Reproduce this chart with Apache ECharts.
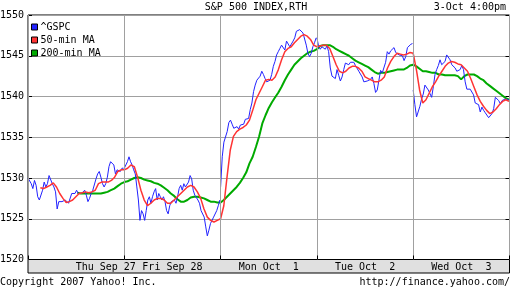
<!DOCTYPE html>
<html>
<head>
<meta charset="utf-8">
<script src="https://cdn.jsdelivr.net/npm/echarts@6/dist/echarts.min.js"></script>
<style>
html,body{margin:0;padding:0;background:#fff;}
#chart{width:512px;height:288px;}
</style>
</head>
<body>
<div id="chart"></div>
<script>
// ---- data ----
const dayLabels = ['Thu Sep 27', 'Fri Sep 28', 'Mon Oct  1', 'Tue Oct  2', 'Wed Oct  3'];
const dayLabelMinutes = [315, 585, 975, 1365, 1755];
const dayBoundaries = [0, 390, 780, 1170, 1560, 1950];
const yTicks = [1520, 1525, 1530, 1535, 1540, 1545, 1550];
const seriesNames = ['^GSPC', '50-min MA', '200-min MA'];
const titleText = 'S&P 500 INDEX,RTH';
const stampText = '3-Oct 4:00pm';
const copyrightText = 'Copyright 2007 Yahoo! Inc.';
const urlText = 'http://finance.yahoo.com/';

// ^GSPC, one array per trading day (9:30-16:00)
const gspcThu = [1530.0,1529.9,1529.3,1528.7,1529.7,1529.1,1527.7,1527.3,1527.1,1528.5,1529.5,1528.9,1529.3,1530.3,1530.1,1529.3,1528.9,1528.3,1526.2,1527.1,1526.9,1527.1,1526.9,1527.3,1527.3,1526.9,1527.1,1528.1,1528.3,1528.1,1528.5,1528.1,1528.3,1528.1,1528.3,1528.5,1527.9,1527.1,1527.5,1528.1,1528.5,1528.7,1529.9,1530.5,1530.8,1530.1,1529.3,1528.9,1529.3,1530.1,1531.4,1532.0,1532.2,1531.6,1530.5,1531.0,1531.0,1530.8,1531.2,1531.2];
const gspcFri = [1531.2,1531.6,1532.0,1532.6,1532.0,1531.6,1531.0,1530.5,1528.9,1527.3,1524.8,1526.0,1525.6,1524.8,1526.0,1527.3,1527.7,1526.9,1527.7,1528.3,1528.7,1527.3,1528.1,1527.7,1527.3,1527.7,1527.1,1526.0,1525.6,1526.6,1527.1,1526.9,1527.3,1526.9,1527.7,1528.7,1529.1,1528.5,1529.3,1528.9,1528.9,1529.5,1530.3,1529.9,1528.5,1527.9,1527.7,1527.3,1526.9,1526.0,1526.0,1525.2,1524.0,1522.9,1523.6,1524.4,1524.8,1525.2,1525.4,1526.0,1526.6,1527.3];
const gspcMon = [1528.9,1532.6,1534.4,1534.6,1535.7,1536.8,1537.1,1536.6,1536.1,1536.0,1536.3,1536.0,1536.5,1536.3,1536.6,1537.2,1537.4,1537.3,1538.4,1539.2,1540.6,1541.4,1542.0,1541.9,1542.5,1543.1,1542.7,1542.2,1541.8,1541.6,1542.0,1542.7,1543.7,1544.3,1545.1,1545.5,1545.9,1546.3,1546.1,1545.7,1546.8,1546.6,1546.1,1545.9,1546.8,1547.2,1548.0,1547.8,1548.2,1548.4,1547.8,1547.6,1546.3,1545.3,1544.9,1545.3,1546.1,1546.6,1547.2];
const gspcTue = [1547.2,1546.2,1545.8,1546.1,1545.9,1545.8,1546.2,1545.5,1543.5,1542.5,1542.5,1542.2,1543.3,1542.6,1541.9,1542.4,1543.3,1544.1,1544.2,1543.9,1544.2,1544.1,1544.2,1543.8,1543.6,1543.1,1543.1,1542.4,1541.8,1541.7,1541.9,1541.7,1542.1,1542.4,1541.6,1540.5,1540.8,1542.0,1543.2,1542.9,1543.0,1544.2,1545.5,1545.2,1545.6,1545.7,1546.0,1545.4,1545.5,1545.1,1544.9,1545.0,1544.4,1544.9,1546.0,1546.2,1546.4,1546.5];
const gspcWed = [1540.8,1539.0,1537.5,1537.3,1538.8,1539.7,1540.3,1541.4,1541.2,1540.8,1540.7,1539.9,1541.2,1542.7,1543.3,1543.8,1544.5,1543.9,1543.9,1544.3,1545.1,1545.1,1544.5,1543.9,1543.9,1543.5,1543.1,1542.9,1543.3,1543.8,1543.3,1541.8,1540.9,1540.7,1540.9,1540.9,1540.2,1539.2,1539.2,1539.0,1538.1,1538.7,1538.3,1538.0,1537.8,1537.4,1537.3,1537.9,1538.5,1539.9,1540.0,1539.5,1539.1,1539.5,1539.4,1539.7,1539.6,1539.6];

// 50-min moving average (Thu starts 50 minutes after the open)
const ma50Thu = [1528.8,1528.7,1528.9,1529.1,1529.4,1528.9,1528.1,1527.5,1527.0,1527.1,1527.3,1527.7,1528.1,1528.2,1528.3,1528.2,1528.3,1528.5,1529.3,1529.5,1529.5,1529.5,1529.7,1530.1,1530.8,1531.0,1531.0];
const ma50Fri = [1531.2,1531.2,1531.6,1531.4,1530.1,1528.5,1527.3,1526.6,1526.9,1527.3,1527.5,1527.5,1527.3,1526.9,1526.9,1527.3,1527.7,1528.1,1528.5,1528.9,1529.1,1528.9,1528.3,1527.5,1526.2,1525.2,1524.8,1524.6,1524.8,1525.0];
const ma50Mon = [1524.8,1526.6,1530.1,1533.4,1535.1,1535.7,1536.0,1536.2,1536.5,1537.1,1538.3,1539.6,1540.4,1541.2,1542.0,1542.1,1542.0,1542.4,1543.3,1544.5,1545.5,1545.9,1546.1,1546.6,1547.0,1547.4,1547.6,1547.4,1547.0,1546.3,1546.1];
const ma50Tue = [1546.3,1546.2,1546.3,1546.3,1545.9,1544.9,1543.9,1543.1,1542.9,1543.1,1543.5,1543.7,1543.7,1543.5,1543.1,1542.4,1542.2,1542.0,1541.8,1541.8,1542.0,1542.4,1543.5,1544.3,1544.9,1545.3,1545.2,1545.1,1545.2,1545.4,1545.3];
const ma50Wed = [1545.1,1543.3,1540.8,1539.2,1539.6,1540.4,1541.2,1541.8,1542.5,1543.1,1543.7,1544.1,1544.3,1544.2,1544.0,1543.9,1543.5,1543.1,1542.2,1541.2,1540.2,1539.4,1538.8,1538.3,1537.9,1538.1,1538.5,1539.0,1539.4,1539.6,1539.4];

// 200-min moving average (Thu starts 200 minutes after the open)
const ma200Thu = [1528.2,1528.1,1528.1,1528.1,1528.1,1528.1,1528.1,1528.1,1528.2,1528.3,1528.5,1528.7,1529.0,1529.3,1529.5];
const ma200Fri = [1529.4,1529.6,1529.8,1530.0,1530.1,1530.0,1529.8,1529.7,1529.6,1529.4,1529.3,1529.1,1528.8,1528.5,1528.1,1527.8,1527.4,1527.1,1527.1,1527.3,1527.6,1527.7,1527.7,1527.6,1527.5,1527.3,1527.1,1527.1,1527.0,1527.0];
const ma200Mon = [1526.9,1527.3,1527.7,1528.1,1528.5,1528.9,1529.4,1530.0,1530.7,1531.8,1532.6,1533.8,1535.1,1536.7,1537.7,1538.6,1539.3,1539.9,1540.5,1541.2,1542.0,1542.7,1543.3,1543.9,1544.3,1544.7,1545.0,1545.3,1545.5,1545.6,1545.8];
const ma200Tue = [1545.9,1546.2,1546.3,1546.3,1546.3,1546.1,1545.8,1545.6,1545.4,1545.2,1545.0,1544.7,1544.4,1544.2,1544.0,1543.8,1543.6,1543.3,1543.0,1542.8,1542.9,1542.9,1543.0,1543.1,1543.2,1543.3,1543.3,1543.3,1543.5,1543.8,1543.9];
const ma200Wed = [1543.8,1543.7,1543.4,1543.1,1543.1,1543.0,1542.9,1542.9,1542.7,1542.7,1542.6,1542.6,1542.6,1542.6,1542.5,1542.1,1542.5,1542.7,1542.7,1542.7,1542.5,1542.2,1542.0,1541.6,1541.3,1541.0,1540.7,1540.4,1540.1,1539.8,1539.6];

const minutesPerDay = 390;
const ma50StartThu = 50;
const ma200StartThu = 200;

// ---- build [time, value] pairs (time in trading minutes from Thu open) ----
function spread(values, day, startMin, endMin) {
  const out = [];
  const n = values.length;
  for (let i = 0; i < n; i++) {
    const t = day * minutesPerDay + startMin + (endMin - startMin) * i / (n - 1);
    out.push([t, values[i]]);
  }
  return out;
}

const gspcDays = [gspcThu, gspcFri, gspcMon, gspcTue, gspcWed];
let gspcData = [];
gspcDays.forEach((vals, d) => {
  gspcData = gspcData.concat(spread(vals, d, 0, 387));
  gspcData.push([d * minutesPerDay + 388, null]);
});

const ma50Data = [].concat(
  spread(ma50Thu, 0, ma50StartThu, 390),
  spread(ma50Fri, 1, 0, 390),
  spread(ma50Mon, 2, 0, 390),
  spread(ma50Tue, 3, 0, 390),
  spread(ma50Wed, 4, 0, 388)
);
const ma200Data = [].concat(
  spread(ma200Thu, 0, ma200StartThu, 390),
  spread(ma200Fri, 1, 0, 390),
  spread(ma200Mon, 2, 0, 390),
  spread(ma200Tue, 3, 0, 390),
  spread(ma200Wed, 4, 0, 388)
);

const FONT = 'DejaVu Sans Mono';
const chart = echarts.init(document.getElementById('chart'), null, {renderer: 'canvas'});

const gridLeft = 28, gridTop = 15, gridRight = 2.5, gridBottom = 28.5;

chart.setOption({
  animation: false,
  backgroundColor: '#fff',
  textStyle: {fontFamily: FONT, fontSize: 10, color: '#000'},
  title: [
    {text: titleText, left: 'center', top: 1, textStyle: {fontFamily: FONT, fontSize: 10, fontWeight: 'normal', color: '#000', lineHeight: 12}, padding: 0},
    {text: stampText, right: 6, top: 1, textStyle: {fontFamily: FONT, fontSize: 10, fontWeight: 'normal', color: '#000', lineHeight: 12}, padding: 0},
    {text: copyrightText, left: 0, top: 276.5, textStyle: {fontFamily: FONT, fontSize: 10, fontWeight: 'normal', color: '#000', lineHeight: 12}, padding: 0},
    {text: urlText, right: 2, top: 276.5, textStyle: {fontFamily: FONT, fontSize: 10, fontWeight: 'normal', color: '#000', lineHeight: 12}, padding: 0}
  ],
  legend: {
    data: seriesNames,
    orient: 'vertical',
    left: 31,
    top: 21,
    icon: 'rect',
    itemWidth: 6,
    itemHeight: 6,
    itemGap: 1,
    padding: 0,
    itemStyle: {borderColor: '#000', borderWidth: 1},
    textStyle: {fontFamily: FONT, fontSize: 10, color: '#000', lineHeight: 12, padding: [0, 0, 0, -2]}
  },
  grid: {
    left: gridLeft, top: gridTop, right: gridRight, bottom: gridBottom,
    outerBoundsMode: 'none', containLabel: false,
    show: true, borderColor: '#000', borderWidth: 1, backgroundColor: '#fff'
  },
  graphic: [{
    type: 'rect', z: 1,
    shape: {x: gridLeft, y: 288 - gridBottom, width: 512 - gridLeft - gridRight, height: 13.5},
    style: {fill: '#e0e0e0', stroke: '#000', lineWidth: 1}
  }],
  xAxis: [{
    type: 'value', min: dayBoundaries[0], max: dayBoundaries[dayBoundaries.length - 1], interval: minutesPerDay,
    z: 10,
    axisLine: {show: false},
    axisTick: {show: true, inside: true, length: 4, lineStyle: {color: '#000'}, customValues: dayBoundaries},
    splitLine: {show: true, lineStyle: {color: '#a0a0a0', width: 1}},
    axisLabel: {
      show: true, margin: 2, fontFamily: FONT, fontSize: 10, color: '#000', lineHeight: 12,
      customValues: dayLabelMinutes,
      formatter: function (v) {
        const i = dayLabelMinutes.indexOf(v);
        return i >= 0 ? dayLabels[i] : '';
      }
    }
  }],
  yAxis: [{
    type: 'value', min: yTicks[0], max: yTicks[yTicks.length - 1], interval: 5,
    axisLine: {show: false},
    axisTick: {show: true, inside: true, length: 4, lineStyle: {color: '#000'}},
    splitLine: {show: true, lineStyle: {color: '#a0a0a0', width: 1}},
    axisLabel: {margin: 4, fontFamily: FONT, fontSize: 10, color: '#000', formatter: function (v) { return String(v); }}
  }, {
    type: 'value', position: 'right', min: yTicks[0], max: yTicks[yTicks.length - 1], interval: 5,
    axisLine: {show: false},
    axisTick: {show: true, inside: true, length: 4, lineStyle: {color: '#000'}},
    splitLine: {show: false},
    axisLabel: {show: false}
  }],
  series: [
    {name: seriesNames[0], type: 'line', data: gspcData, showSymbol: false, symbol: 'none', connectNulls: false,
     color: '#2222ff', lineStyle: {color: '#2222ff', width: 1}, z: 3},
    {name: seriesNames[1], type: 'line', data: ma50Data, showSymbol: false, symbol: 'none',
     color: '#ff3333', lineStyle: {color: '#ff3333', width: 1.5}, z: 4},
    {name: seriesNames[2], type: 'line', data: ma200Data, showSymbol: false, symbol: 'none',
     color: '#00aa00', lineStyle: {color: '#00aa00', width: 2}, z: 2}
  ]
});
</script>
</body>
</html>
